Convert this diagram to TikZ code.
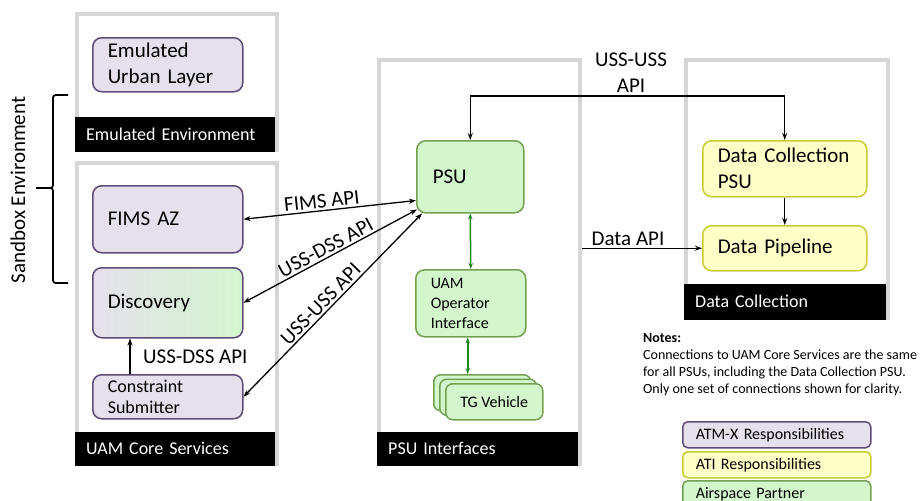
\documentclass[tikz,border=0pt]{standalone}
\usepackage{fontspec}
\setmainfont{Carlito}
\usetikzlibrary{arrows.meta,calc}
\definecolor{lav}{HTML}{E5E0EC}
\definecolor{lavd}{HTML}{5F4B78}
\definecolor{grn}{HTML}{D3F6CD}
\definecolor{grnd}{HTML}{74A052}
\definecolor{ylw}{HTML}{FFFFC8}
\definecolor{ylwd}{HTML}{CACA36}
\definecolor{pgray}{HTML}{D6D6D6}
\definecolor{garrow}{HTML}{1F8A1F}
\newcommand\fbig{\fontsize{21}{26}\selectfont}
\newcommand\fbar{\fontsize{18}{22}\selectfont}
\newcommand\fmid{\fontsize{18}{21}\selectfont}
\newcommand\fsml{\fontsize{16}{20}\selectfont}
\newcommand\fnote{\fontsize{14}{17}\selectfont}
\begin{document}
\begin{tikzpicture}[x=1pt,y=-1pt,
  panel/.style={draw=pgray,line width=4pt,anchor=north west,inner sep=0pt},
  bar/.style={fill=black,text=white,anchor=south west,inner xsep=11pt,inner ysep=0pt,align=left,font=\fbar},
  box/.style={rounded corners=9pt,line width=1.5pt,anchor=north west,inner xsep=15pt,inner ysep=0pt,align=left},
  lbox/.style={box,draw=lavd,fill=lav},
  gbox/.style={box,draw=grnd,fill=grn},
  ybox/.style={box,draw=ylwd,fill=ylw},
  arr/.style={line width=1.3pt,-{Stealth[length=7pt,width=5pt]}},
  darr/.style={line width=1.3pt,{Stealth[length=7pt,width=5pt]}-{Stealth[length=7pt,width=5pt]}},
  garr/.style={line width=1.5pt,draw=garrow,{Stealth[length=6pt,width=4.5pt]}-{Stealth[length=6pt,width=4.5pt]}},
  lbl/.style={font=\fbig,inner sep=2pt}
]
\useasboundingbox (0,0) rectangle (922,501);
\fill[white] (0,0) rectangle (922,501);

% panels
\node[panel,minimum width=200pt,minimum height=136pt] (envp) at (75,12) {};
\node[bar,minimum width=200pt,minimum height=35pt,text width=178pt] (envbar) at (envp.south west) {Emulated Environment};
\node[panel,minimum width=200pt,minimum height=301pt] (corep) at (75,161) {};
\node[bar,minimum width=200pt,minimum height=34pt,text width=178pt] (corebar) at (corep.south west) {UAM Core Services};
\node[panel,minimum width=201pt,minimum height=404pt] (psup) at (377,58) {};
\node[bar,minimum width=201pt,minimum height=34pt,text width=179pt] (psubar) at (psup.south west) {PSU Interfaces};
\node[panel,minimum width=202pt,minimum height=258pt] (dcp) at (684,58) {};
\node[bar,minimum width=202pt,minimum height=36pt,text width=180pt] (dcbar) at (dcp.south west) {Data Collection};

% boxes
\node[lbox,minimum width=150pt,minimum height=54pt,text width=120pt,font=\fbig] (eul) at (92,37) {Emulated\\Urban Layer};
\node[lbox,minimum width=150pt,minimum height=67pt,text width=120pt,font=\fbig] (fims) at (92,185) {FIMS AZ};
\node[box,draw=lavd,left color=lav,right color=grn,minimum width=150pt,minimum height=70pt,text width=120pt,font=\fbig] (disc) at (92,267) {Discovery};
\node[lbox,minimum width=150pt,minimum height=44pt,text width=120pt,font=\fmid] (cs) at (92,374) {Constraint\\Submitter};

\node[gbox,minimum width=107pt,minimum height=72pt,text width=75pt,inner xsep=16pt,font=\fbig] (psu) at (416,140) {PSU};
\node[gbox,minimum width=110pt,minimum height=67pt,text width=80pt,font=\fsml] (uoi) at (415,269) {UAM\\Operator\\Interface};
\node[gbox,rounded corners=7pt,minimum width=97pt,minimum height=36pt,inner xsep=0pt,align=center] (tg3) at (433,374) {};
\node[gbox,rounded corners=7pt,minimum width=97pt,minimum height=36pt,inner xsep=0pt,align=center] (tg2) at (439,378.5) {};
\node[gbox,rounded corners=7pt,minimum width=97pt,minimum height=36pt,inner xsep=0pt,align=center,font=\fsml] (tg) at (445,383) {TG Vehicle};

\node[ybox,minimum width=164pt,minimum height=56pt,text width=134pt,font=\fbig] (dcpsu) at (702,140) {Data Collection\\PSU};
\node[ybox,minimum width=164pt,minimum height=45pt,text width=134pt,font=\fbig] (dp) at (702,225) {Data Pipeline};

% brace and side label
\draw[line width=1.8pt,line join=round]
  (68,95) -- (59,95) .. controls (53,95) .. (53,101) -- (53,182) .. controls (53,188) .. (47,188) -- (36,188)
  (47,188) .. controls (53,188) .. (53,194) -- (53,277) .. controls (53,283) .. (59,283) -- (68,283);
\node[rotate=90,font=\fbig] (sbx) at (18,190) {Sandbox Environment};

% connectors
\draw[arr] ($(cs.north west)+(38,0)$) -- ($(disc.south west)+(38,0)$);
\node[lbl,anchor=west] (dsslbl) at (141,357) {USS-DSS API};

\draw[darr] (fims.east) -- ($(psu.south west)+(0,-13)$) node[lbl,pos=0.46,sloped,above] {FIMS API};
\draw[darr] (disc.east) -- ($(psu.south west)+(1,-4)$) node[lbl,pos=0.5,sloped,above] {USS-DSS API};
\draw[darr] (cs.east) -- ($(psu.south west)+(6,0)$) node[lbl,pos=0.47,sloped,above] {USS-USS API};

\coordinate (toprow) at (0,96);
\draw[darr] (psu.north) -- (psu.north |- toprow) -| (dcpsu.north);
\node[font=\fbig,align=center] (usslbl) at (631,73) {USS-USS\\API};

\draw[arr] (dcpsu.south) -- (dp.north);
\coordinate (dastart) at (psup.east |- dp.west);
\draw[arr] (dastart) -- (dp.west) node[lbl,midway,above,xshift=-14pt] {Data API};

\draw[garr] (psu.south) -- (uoi.north);
\draw[garr] ($(uoi.south)+(-3,0)$) -- ($(uoi.south |- tg3.north)+(-3,0)$);

% notes
\node[anchor=north west,align=left,inner sep=0pt,font=\fnote] (notes) at (643,333) {\textbf{Notes:}\\Connections to UAM Core Services are the same\\for all PSUs, including the Data Collection PSU.\\Only one set of connections shown for clarity.};

% legend
\node[box,draw=lavd,fill=lav,rounded corners=5pt,inner xsep=13pt,minimum width=188pt,minimum height=26pt,text width=162pt,font=\fsml] (lg1) at (682,421) {ATM-X Responsibilities};
\node[box,draw=ylwd,fill=ylw,rounded corners=5pt,inner xsep=13pt,minimum width=188pt,minimum height=26pt,text width=162pt,font=\fsml] (lg2) at (682,451) {ATI Responsibilities};
\node[box,draw=grnd,fill=grn,rounded corners=5pt,inner xsep=13pt,minimum width=188pt,minimum height=28pt,text width=162pt,font=\fsml] (lg3) at (682,480) {Airspace Partner};
\end{tikzpicture}
\end{document}
